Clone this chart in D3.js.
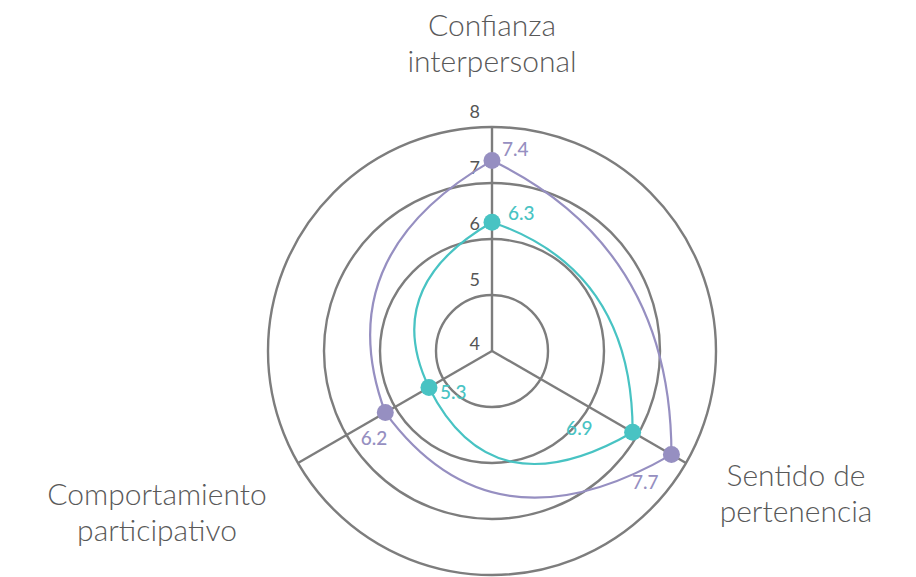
<!DOCTYPE html>
<html>
<head>
<meta charset="utf-8">
<script src="https://cdn.jsdelivr.net/npm/d3@7"></script>
<style>
  html, body { margin: 0; padding: 0; background: #fff; }
  text { font-family: Lato, "Open Sans", sans-serif; }
</style>
</head>
<body>
<svg id="chart"></svg>
<script>
// Data
const categories = ["Confianza interpersonal", "Sentido de pertenencia", "Comportamiento participativo"];
const categoryLines = [["Confianza", "interpersonal"], ["Sentido de", "pertenencia"], ["Comportamiento", "participativo"]];
const purpleValues = [7.4, 7.7, 6.2];
const tealValues = [6.3, 6.9, 5.3];
const tickValues = [4, 5, 6, 7, 8];

const width = 916;
const height = 577;
const cx = 492, cy = 351;

const series = [
    { name: "teal", values: tealValues, color: "#48c3c3" },
    { name: "purple", values: purpleValues, color: "#968fc1" }
];

// label offsets (relative to the dot) for each series and axis
const valueLabelPos = {
    purple: [{ dx: 10, dy: -5, anchor: "start" }, { dx: -13, dy: 34, anchor: "end" }, { dx: 2, dy: 32, anchor: "end" }],
    teal: [{ dx: 16, dy: -2, anchor: "start" }, { dx: -40, dy: 3, anchor: "end" }, { dx: 11, dy: 12, anchor: "start" }]
};
const categoryLabelPos = [{ x: 0, y: -315 }, { x: 304, y: 135 }, { x: -335, y: 154 }];
const lineGap = 36;

const svg = d3.select("#chart")
    .attr("width", width)
    .attr("height", height);

const g = svg.append("g")
    .attr("transform", `translate(${cx},${cy})`);

// Scales
const rScale = d3.scaleLinear()
    .domain([4, 8])
    .range([0, 224]);

const aScale = d3.scaleLinear()
    .domain([0, categories.length])
    .range([0, 2 * Math.PI]);

const px = (a, r) => r * Math.sin(a);
const py = (a, r) => -r * Math.cos(a);

// Grid circles
g.selectAll(".grid")
    .data(tickValues.filter(d => d > 4))
    .enter()
    .append("circle")
    .attr("class", "grid")
    .attr("r", d => rScale(d))
    .attr("fill", "none")
    .attr("stroke", "#7d7d7d")
    .attr("stroke-width", 2.4);

// Axis spokes
g.selectAll(".spoke")
    .data(categories)
    .enter()
    .append("line")
    .attr("class", "spoke")
    .attr("x1", 0)
    .attr("y1", 0)
    .attr("x2", (d, i) => px(aScale(i), rScale(8)))
    .attr("y2", (d, i) => py(aScale(i), rScale(8)))
    .attr("stroke", "#7d7d7d")
    .attr("stroke-width", 2.4);

// Tick labels
g.selectAll(".tick-label")
    .data(tickValues)
    .enter()
    .append("text")
    .attr("class", "tick-label")
    .attr("x", -12)
    .attr("y", d => -rScale(d) - (d === 4 ? 1 : 9))
    .attr("text-anchor", "end")
    .attr("fill", "#555")
    .style("font-size", "18px")
    .text(d => d);

// Rounded shape: each side bends outward with a control point on the middle angle
function shapePath(values) {
    const p = d3.path();
    const n = values.length;
    values.forEach((v, i) => {
        const a0 = aScale(i), a1 = aScale(i + 1);
        const r0 = rScale(v), r1 = rScale(values[(i + 1) % n]);
        if (i === 0) p.moveTo(px(a0, r0), py(a0, r0));
        const am = (a0 + a1) / 2;
        const rc = Math.max(r0, r1);
        p.quadraticCurveTo(px(am, rc), py(am, rc), px(a1, r1), py(a1, r1));
    });
    p.closePath();
    return p.toString();
}

g.selectAll(".shape")
    .data(series)
    .enter()
    .append("path")
    .attr("class", "shape")
    .attr("d", d => shapePath(d.values))
    .attr("fill", "none")
    .attr("stroke", d => d.color)
    .attr("stroke-width", 2.2);

// Dots and value labels
series.forEach(s => {
    g.selectAll(".dot-" + s.name)
        .data(s.values)
        .enter()
        .append("circle")
        .attr("class", "dot-" + s.name)
        .attr("cx", (d, i) => px(aScale(i), rScale(d)))
        .attr("cy", (d, i) => py(aScale(i), rScale(d)))
        .attr("r", 8.5)
        .attr("fill", s.color);

    g.selectAll(".val-" + s.name)
        .data(s.values)
        .enter()
        .append("text")
        .attr("class", "val-" + s.name)
        .attr("x", (d, i) => px(aScale(i), rScale(d)) + valueLabelPos[s.name][i].dx)
        .attr("y", (d, i) => py(aScale(i), rScale(d)) + valueLabelPos[s.name][i].dy)
        .attr("text-anchor", (d, i) => valueLabelPos[s.name][i].anchor)
        .attr("fill", s.color)
        .style("font-size", "19px")
        .style("font-weight", 500)
        .text(d => d.toFixed(1));
});

// Category labels, one text per line
categoryLines.forEach((lines, i) => {
    lines.forEach((line, j) => {
        g.append("text")
            .attr("class", "category-label")
            .attr("x", categoryLabelPos[i].x)
            .attr("y", categoryLabelPos[i].y + j * lineGap)
            .attr("text-anchor", "middle")
            .attr("fill", "#595959")
            .style("font-size", "30px")
            .style("font-weight", 300)
            .text(line);
    });
});
</script>
</body>
</html>
